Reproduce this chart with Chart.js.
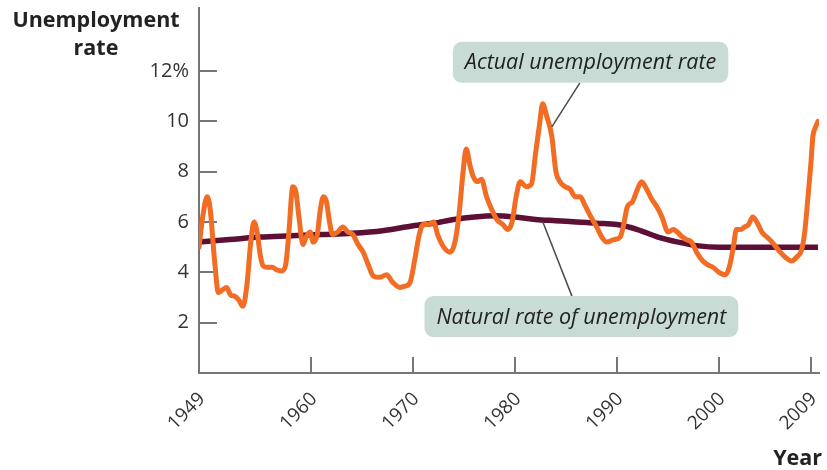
<!DOCTYPE html>
<html>
<head>
<meta charset="utf-8">
<script src="https://cdn.jsdelivr.net/npm/chart.js@4.4.1/dist/chart.umd.min.js"></script>
<style>
  html, body { margin: 0; padding: 0; background: #ffffff; }
  canvas { display: block; }
</style>
</head>
<body>
<canvas id="c" width="827" height="470"></canvas>
<script>
// Actual unemployment rate, US, 1949-2009 (percent)
const actualYears = [
  1949.0, 1949.4, 1949.8, 1950.1, 1950.5, 1950.9, 1951.3, 1951.7, 1952.1, 1952.5,
  1952.9, 1953.3, 1953.7, 1954.1, 1954.4, 1954.7, 1955.0, 1955.3, 1955.7, 1956.2,
  1956.6, 1957.1, 1957.5, 1957.8, 1958.2, 1958.5, 1958.8, 1959.2, 1959.5, 1959.9,
  1960.2, 1960.6, 1960.9, 1961.2, 1961.5, 1961.8, 1962.1, 1962.6, 1963.1, 1963.6,
  1964.1, 1964.6, 1965.1, 1965.6, 1966.1, 1966.7, 1967.4, 1968.0, 1968.7, 1969.2,
  1969.7, 1970.2, 1970.6, 1971.0, 1971.5, 1972.0, 1972.4, 1973.0, 1973.6, 1974.1,
  1974.5, 1974.9, 1975.2, 1975.6, 1975.9, 1976.3, 1976.7, 1977.2, 1977.7, 1978.2,
  1978.8, 1979.3, 1979.7, 1980.1, 1980.5, 1981.1, 1981.6, 1982.0, 1982.4, 1982.7,
  1983.1, 1983.6, 1984.0, 1984.4, 1984.9, 1985.4, 1985.9, 1986.4, 1986.8, 1987.3,
  1988.0, 1988.5, 1989.0, 1989.7, 1990.3, 1990.6, 1991.0, 1991.5, 1991.9, 1992.4,
  1992.9, 1993.4, 1993.9, 1994.4, 1995.0, 1995.5, 1995.9, 1996.4, 1996.8, 1997.3,
  1997.8, 1998.4, 1998.9, 1999.4, 2000.0, 2000.6, 2001.0, 2001.4, 2001.7, 2002.1,
  2002.5, 2002.9, 2003.3, 2003.7, 2004.2, 2004.7, 2005.2, 2005.6, 2006.0, 2006.5,
  2007.1, 2007.6, 2008.1, 2008.4, 2008.7, 2009.0, 2009.2, 2009.4, 2009.7
];
const actualRates = [
  5.0, 6.3, 7.0, 6.5, 4.6, 3.2, 3.3, 3.4, 3.1, 3.05,
  2.9, 2.65, 3.5, 5.3, 6.0, 5.6, 4.7, 4.25, 4.2, 4.2,
  4.1, 4.05, 4.3, 5.5, 7.4, 7.2, 6.2, 5.1, 5.4, 5.6,
  5.2, 5.5, 6.5, 7.0, 6.8, 6.0, 5.5, 5.6, 5.8, 5.6,
  5.5, 5.1, 4.8, 4.3, 3.85, 3.8, 3.9, 3.6, 3.4, 3.45,
  3.6, 4.6, 5.5, 5.9, 5.9, 6.0, 5.5, 5.0, 4.8, 5.2,
  6.3, 8.0, 8.9, 8.2, 7.8, 7.6, 7.7, 7.0, 6.5, 6.1,
  5.9, 5.7, 6.0, 7.0, 7.6, 7.4, 7.5, 8.7, 9.9, 10.7,
  10.2, 9.4, 8.0, 7.6, 7.4, 7.3, 7.0, 7.0, 6.7, 6.3,
  5.8, 5.4, 5.2, 5.3, 5.4, 5.8, 6.6, 6.8, 7.2, 7.6,
  7.3, 6.9, 6.6, 6.2, 5.6, 5.7, 5.6, 5.4, 5.3, 5.2,
  4.8, 4.45, 4.3, 4.2, 4.0, 3.9, 4.2, 5.0, 5.7, 5.7,
  5.8, 5.9, 6.2, 6.0, 5.6, 5.4, 5.2, 5.0, 4.8, 4.6,
  4.45, 4.6, 4.9, 5.6, 6.9, 8.3, 9.4, 9.7, 10.0
];

// Natural rate of unemployment (percent)
const naturalYears = [1949, 1952, 1955, 1958, 1961, 1964, 1967, 1970, 1972, 1974,
  1976, 1978, 1980, 1982, 1984, 1986, 1988, 1990, 1992, 1994, 1996, 1998, 2000, 2003, 2006, 2009.7];
const naturalRates = [5.2, 5.3, 5.4, 5.45, 5.5, 5.55, 5.65, 5.85, 5.95, 6.1,
  6.2, 6.25, 6.2, 6.1, 6.05, 6.0, 5.95, 5.9, 5.7, 5.4, 5.2, 5.05, 5.0, 5.0, 5.0, 5.0];

const yearTicks = [1949, 1960, 1970, 1980, 1990, 2000, 2009];
const rateTicks = [2, 4, 6, 8, 10, 12];

const toPoints = (xs, ys) => xs.map((x, i) => ({ x: x, y: ys[i] }));

const FONT = '"Open Sans", "DejaVu Sans", sans-serif';
const AXIS_GREY = '#767676';

// Keep the scales from reserving extra room for their overhanging labels
function noScalePadding(scale) {
  scale.paddingLeft = 0;
  scale.paddingRight = 0;
  scale.paddingTop = 0;
  scale.paddingBottom = 0;
}

// Tick marks pointing into the plot, axis titles and the two callouts
const decor = {
  id: 'decor',
  beforeDatasetsDraw(chart) {
    const { ctx, chartArea: a, scales: { x, y } } = chart;
    ctx.save();
    ctx.strokeStyle = AXIS_GREY;
    ctx.lineWidth = 2;
    rateTicks.forEach(v => {
      const py = Math.round(y.getPixelForValue(v));
      ctx.beginPath(); ctx.moveTo(a.left, py); ctx.lineTo(a.left + 18, py); ctx.stroke();
    });
    yearTicks.slice(1).forEach(v => {
      const px = Math.round(x.getPixelForValue(v));
      ctx.beginPath(); ctx.moveTo(px, a.bottom); ctx.lineTo(px, a.bottom - 16); ctx.stroke();
    });
    ctx.restore();
  },
  afterDatasetsDraw(chart, args, opts) {
    const { ctx, chartArea: a, scales: { x, y } } = chart;
    ctx.save();

    // axis titles
    ctx.fillStyle = '#222';
    ctx.font = 'bold 21.5px ' + FONT;
    ctx.textAlign = 'center';
    ctx.textBaseline = 'alphabetic';
    ctx.fillText('Unemployment', a.left - 103, 27);
    ctx.fillText('rate', a.left - 103, 55);
    ctx.textAlign = 'right';
    ctx.fillText('Year', 822, 465);

    // callouts
    opts.callouts.forEach(c => {
      ctx.font = 'italic 21.5px ' + FONT;
      const w = ctx.measureText(c.text).width + 24;
      const h = 41;
      const cx = x.getPixelForValue(c.x);
      const cy = y.getPixelForValue(c.y);
      const bx = cx - w / 2, by = cy - h / 2;

      // leader line
      const lx = x.getPixelForValue(c.from);
      const ly = c.side === 'bottom' ? by + h : by;
      ctx.strokeStyle = '#4a4a4a';
      ctx.lineWidth = 1.5;
      ctx.beginPath();
      ctx.moveTo(lx, ly);
      ctx.lineTo(x.getPixelForValue(c.to[0]), y.getPixelForValue(c.to[1]));
      ctx.stroke();

      ctx.fillStyle = '#c8dbd5';
      ctx.beginPath();
      ctx.roundRect(bx, by, w, h, 9);
      ctx.fill();

      ctx.fillStyle = '#222';
      ctx.textAlign = 'center';
      ctx.textBaseline = 'middle';
      ctx.fillText(c.text, cx, cy + 1);
    });
    ctx.restore();
  }
};

new Chart(document.getElementById('c'), {
  type: 'line',
  data: {
    datasets: [
      {
        label: 'Actual unemployment rate',
        data: toPoints(actualYears, actualRates),
        borderColor: '#f26c24',
        borderWidth: 5,
        pointRadius: 0,
        cubicInterpolationMode: 'monotone',
        borderJoinStyle: 'round',
        borderCapStyle: 'round',
        fill: false
      },
      {
        label: 'Natural rate of unemployment',
        data: toPoints(naturalYears, naturalRates),
        borderColor: '#5c1035',
        borderWidth: 5.5,
        pointRadius: 0,
        cubicInterpolationMode: 'monotone',
        borderCapStyle: 'butt',
        fill: false
      }
    ]
  },
  options: {
    responsive: false,
    animation: false,
    devicePixelRatio: 1,
    layout: { autoPadding: false, padding: { top: 8, right: 8, left: 0, bottom: 0 } },
    plugins: {
      legend: { display: false },
      tooltip: { enabled: false },
      decor: {
        callouts: [
          { text: 'Actual unemployment rate', x: 1987.4, y: 12.34, side: 'bottom', from: 1986.35, to: [1983.6, 9.78] },
          { text: 'Natural rate of unemployment', x: 1986.5, y: 2.24, side: 'top', from: 1985.57, to: [1982.7, 6.02] }
        ]
      }
    },
    scales: {
      x: {
        type: 'linear',
        min: 1949,
        max: 2009.8,
        afterFit(scale) { scale.height = 97; noScalePadding(scale); },
        afterBuildTicks(scale) { scale.ticks = yearTicks.map(v => ({ value: v })); },
        grid: { display: false, drawTicks: false },
        border: { display: true, color: AXIS_GREY, width: 2 },
        ticks: {
          autoSkip: false,
          minRotation: 45,
          maxRotation: 45,
          padding: 15,
          labelOffset: 3,
          color: '#333',
          font: { family: FONT, size: 19 },
          callback: v => String(v)
        }
      },
      y: {
        type: 'linear',
        min: 0,
        max: 14.5,
        afterFit(scale) { scale.width = 199; noScalePadding(scale); },
        afterBuildTicks(scale) { scale.ticks = rateTicks.map(v => ({ value: v })); },
        grid: { display: false, drawTicks: false },
        border: { display: true, color: AXIS_GREY, width: 2 },
        ticks: {
          padding: 10,
          color: '#333',
          font: { family: FONT, size: 20 },
          callback: v => (v === 12 ? '12%' : String(v))
        }
      }
    }
  },
  plugins: [decor]
});
</script>
</body>
</html>
